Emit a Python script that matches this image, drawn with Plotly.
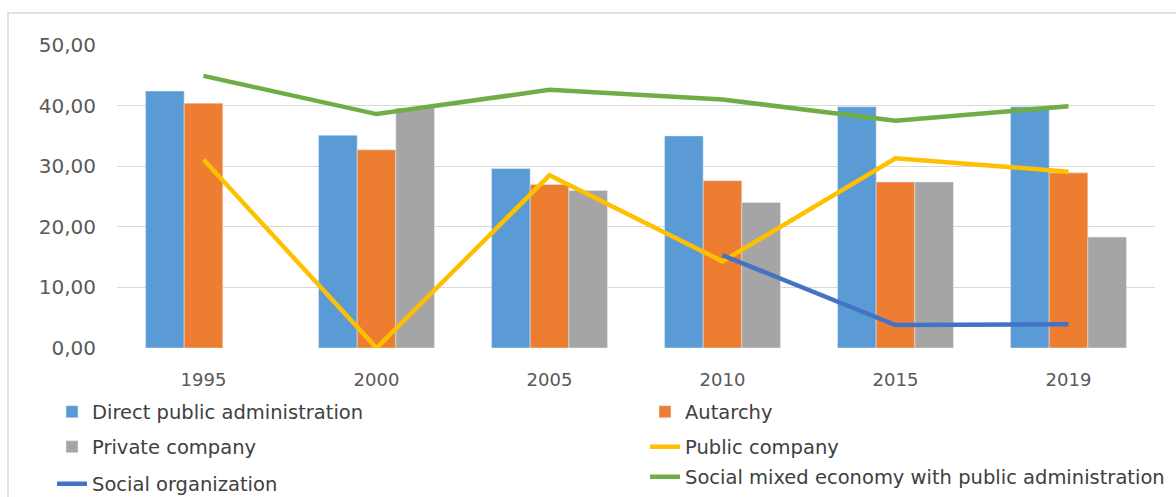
import plotly.graph_objects as go

years = ["1995", "2000", "2005", "2010", "2015", "2019"]

direct_public_admin = [42.4, 35.1, 29.6, 35.0, 39.8, 39.8]
autarchy = [40.4, 32.7, 27.0, 27.6, 27.4, 28.9]
private_company = [None, 39.6, 26.0, 24.0, 27.4, 18.3]
public_company = [31.1, 0.0, 28.5, 14.3, 31.3, 29.1]
social_organization = [None, None, None, 15.3, 3.8, 3.9]
social_mixed_economy = [44.9, 38.6, 42.6, 41.0, 37.5, 39.9]

FONT = "DejaVu Sans, Liberation Sans, sans-serif"
W, H = 1176, 497

fig = go.Figure()

fig.add_trace(go.Bar(x=years, y=direct_public_admin, name="Direct public administration",
                     marker_color="#5B9BD5", legend="legend"))
fig.add_trace(go.Bar(x=years, y=autarchy, name="Autarchy",
                     marker_color="#ED7D31", legend="legend2"))
fig.add_trace(go.Bar(x=years, y=private_company, name="Private company",
                     marker_color="#A5A5A5", legend="legend3"))
fig.add_trace(go.Scatter(x=years, y=public_company, name="Public company", mode="lines",
                         line=dict(color="#FFC000", width=4.5), legend="legend4"))
fig.add_trace(go.Scatter(x=years, y=social_organization, name="Social organization", mode="lines",
                         line=dict(color="#4472C4", width=4.5), legend="legend5"))
fig.add_trace(go.Scatter(x=years, y=social_mixed_economy,
                         name="Social mixed economy with public administration", mode="lines",
                         line=dict(color="#70AD47", width=4.5), legend="legend6"))


def legend_at(px, py):
    # one legend entry placed at a pixel position of the page
    return dict(xref="container", yref="container", x=px / W, y=1 - py / H,
                xanchor="left", yanchor="middle", orientation="h",
                font=dict(family=FONT, size=19.5, color="#404040"),
                bgcolor="rgba(0,0,0,0)", borderwidth=0)


fig.update_layout(
    width=W, height=H,
    showlegend=True,
    margin=dict(l=117, r=21, t=45, b=149, autoexpand=False),
    paper_bgcolor="white", plot_bgcolor="white",
    barmode="group", bargap=0.33, bargroupgap=0,
    separators=",.",
    font=dict(family=FONT, size=18, color="#595959"),
    xaxis=dict(showgrid=False, showline=False, ticks="", ticklabelstandoff=19,
               tickfont=dict(family=FONT, size=18, color="#595959")),
    yaxis=dict(range=[0, 50], dtick=10, tickformat=".2f", showgrid=True,
               gridcolor="#D9D9D9", gridwidth=1.3, zeroline=False,
               ticks="", ticklabelstandoff=20,
               tickfont=dict(family=FONT, size=20, color="#595959")),
    legend=legend_at(52, 412),
    legend2=legend_at(645, 412),
    legend3=legend_at(52, 447),
    legend4=legend_at(645, 447),
    legend5=legend_at(52, 484),
    legend6=legend_at(645, 477),
    shapes=[dict(type="rect", xref="paper", yref="paper",
                 x0=(8 - 117) / 1038, x1=1.1, y0=-0.6, y1=1 + (45 - 13) / 303,
                 line=dict(color="#D9D9D9", width=1.5), fillcolor="rgba(0,0,0,0)",
                 layer="below")],
)

fig.write_html("out.html")
